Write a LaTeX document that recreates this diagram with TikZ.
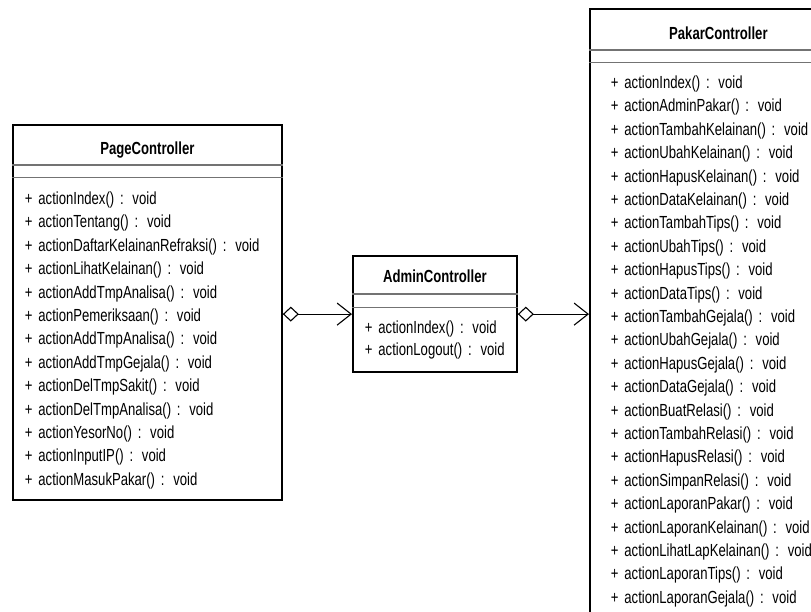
\documentclass[tikz,border=0pt]{standalone}
\usepackage{fontspec}
\usetikzlibrary{shapes.multipart, arrows.meta}
\newfontfamily\umlfont[FakeStretch=0.75, WordSpace=0.6]{Liberation Sans}

\begin{document}
\begin{tikzpicture}[x=1pt, y=-1pt]
\tikzstyle{umlclass} = [rectangle split, rectangle split parts=3, rectangle split draw splits=false, draw=black, line width=1.8pt, inner ysep=0pt, align=left, anchor=north west, font=\umlfont\fontsize{17.5}{23.4}\selectfont]
\tikzstyle{splitline} = [draw=black!55, line width=1.8pt]
\tikzstyle{aggr} = [line width=1.1pt, {Diamond[open, length=16pt, width=15pt]}-{Straight Barb[length=14pt, width=22pt]}]

\useasboundingbox (0,0) rectangle (811,611);
\fill[white] (0,0) rectangle (811,611);

\node[umlclass, text width=245pt, inner xsep=12pt] (page) at (12,124) {%
	\rule[-9pt]{0pt}{38pt}\makebox[\hsize]{\bfseries PageController}
	\nodepart{two}\rule{0pt}{11pt}
	\nodepart{three}\rule{0pt}{26pt}+ actionIndex() : void\\
	+ actionTentang() : void\\
	+ actionDaftarKelainanRefraksi() : void\\
	+ actionLihatKelainan() : void\\
	+ actionAddTmpAnalisa() : void\\
	+ actionPemeriksaan() : void\\
	+ actionAddTmpAnalisa() : void\\
	+ actionAddTmpGejala() : void\\
	+ actionDelTmpSakit() : void\\
	+ actionDelTmpAnalisa() : void\\
	+ actionYesorNo() : void\\
	+ actionInputIP() : void\\
	+ actionMasukPakar() : void\rule[-14pt]{0pt}{14pt}};

\node[umlclass, text width=140pt, inner xsep=12pt, font=\umlfont\fontsize{17.5}{22}\selectfont] (admin) at (352,255) {%
	\rule[-10pt]{0pt}{36pt}\makebox[\hsize]{\bfseries AdminController}
	\nodepart{two}\rule{0pt}{12pt}
	\nodepart{three}\rule{0pt}{25pt}+ actionIndex() : void\\
	+ actionLogout() : void\rule[-16pt]{0pt}{16pt}};

\node[umlclass, text width=215pt, inner xsep=21pt] (pakar) at (589,8) {%
	\rule[-9pt]{0pt}{39pt}\makebox[\hsize]{\bfseries PakarController}
	\nodepart{two}\rule{0pt}{11pt}
	\nodepart{three}\rule{0pt}{25pt}+ actionIndex() : void\\
	+ actionAdminPakar() : void\\
	+ actionTambahKelainan() : void\\
	+ actionUbahKelainan() : void\\
	+ actionHapusKelainan() : void\\
	+ actionDataKelainan() : void\\
	+ actionTambahTips() : void\\
	+ actionUbahTips() : void\\
	+ actionHapusTips() : void\\
	+ actionDataTips() : void\\
	+ actionTambahGejala() : void\\
	+ actionUbahGejala() : void\\
	+ actionHapusGejala() : void\\
	+ actionDataGejala() : void\\
	+ actionBuatRelasi() : void\\
	+ actionTambahRelasi() : void\\
	+ actionHapusRelasi() : void\\
	+ actionSimpanRelasi() : void\\
	+ actionLaporanPakar() : void\\
	+ actionLaporanKelainan() : void\\
	+ actionLihatLapKelainan() : void\\
	+ actionLaporanTips() : void\\
	+ actionLaporanGejala() : void\rule[-11pt]{0pt}{11pt}};

% compartment lines
\foreach \c in {page, admin, pakar} {
	\draw[splitline] (\c.one split west) -- (\c.one split east);
	\draw[splitline] (\c.two split west) -- (\c.two split east);
}

% aggregations
\draw[aggr] (page.east |- admin.west) -- (admin.west);
\draw[aggr] (admin.east) -- (pakar.west |- admin.east);
\end{tikzpicture}
\end{document}
